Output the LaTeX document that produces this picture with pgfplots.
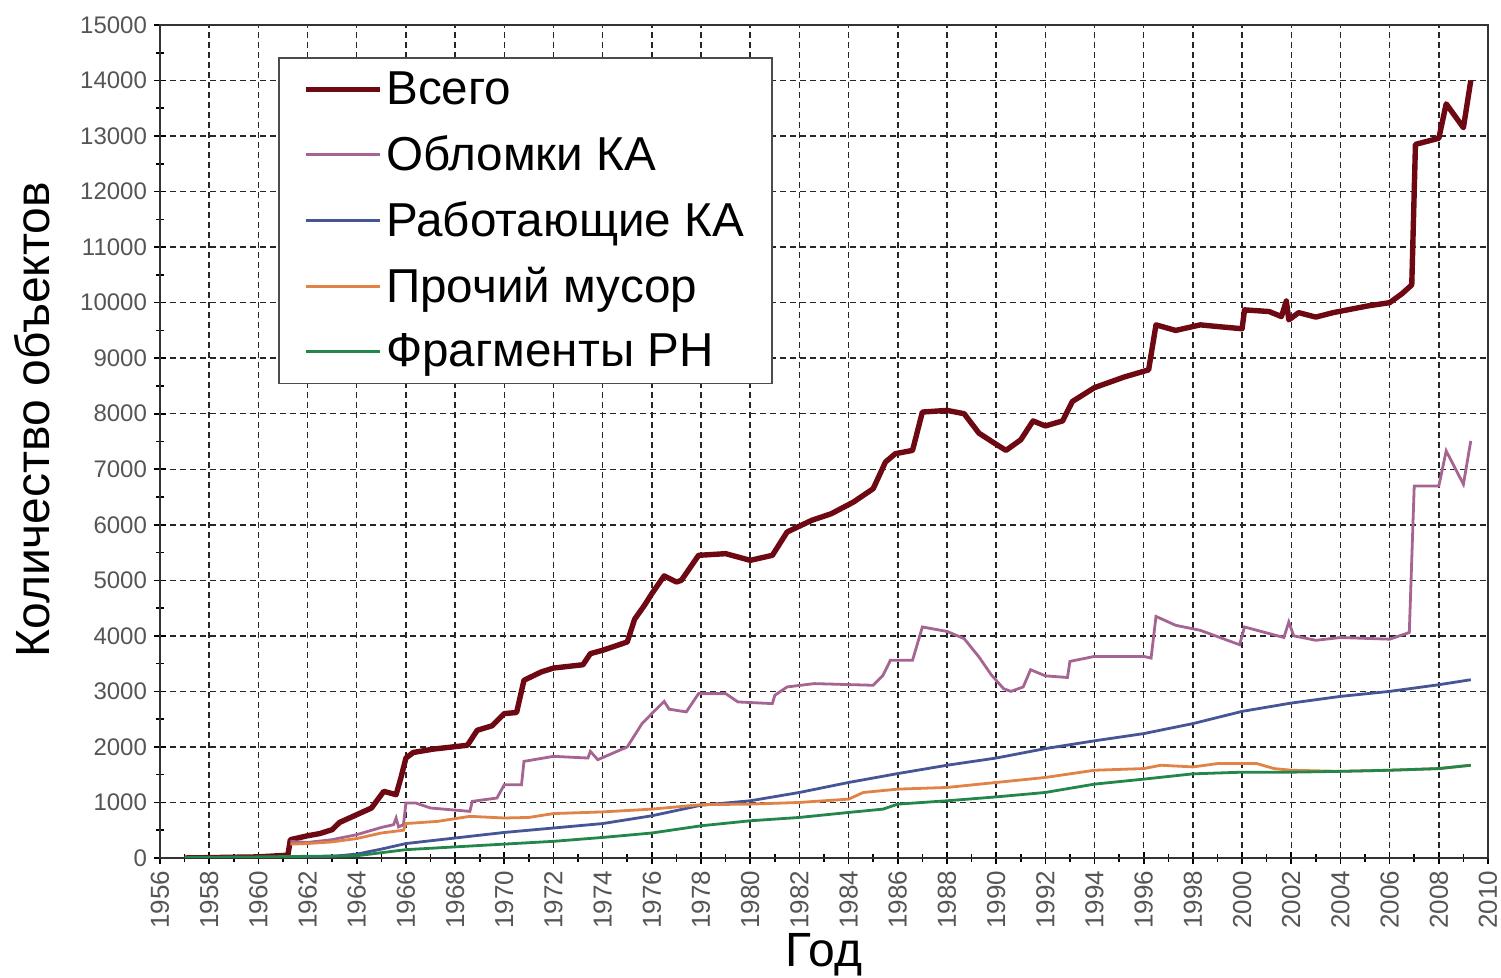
\documentclass[border=0pt]{standalone}
\usepackage{fontspec}
\setmainfont{Liberation Sans}
\usepackage{pgfplots}
\pgfplotsset{compat=1.18}
\definecolor{cTot}{RGB}{110,8,18}
\definecolor{cDeb}{RGB}{165,100,145}
\definecolor{cWork}{RGB}{70,85,150}
\definecolor{cOth}{RGB}{225,130,70}
\definecolor{cFrag}{RGB}{35,135,75}
\definecolor{tickgray}{RGB}{85,85,85}
\begin{document}
\begin{tikzpicture}
\path[use as bounding box] (0,0) rectangle (750.5pt,489pt);
\begin{axis}[
  at={(80pt,60pt)}, anchor=south west,
  width=664pt, height=416.5pt, scale only axis,
  xmin=1956, xmax=2010, ymin=0, ymax=15000,
  xtick={1956,1958,...,2010},
  minor xtick={1957,1959,...,2009},
  ytick={0,1000,...,15000},
  minor ytick={500,1500,...,14500},
  scaled y ticks=false,
  xtick pos=left, ytick pos=left,
  tick align=center,
  major tick length=6pt, minor tick length=4pt,
  every tick/.style={black, line width=0.8pt},
  grid=major,
  major grid style={black!85, line width=0.75pt, dash pattern=on 3pt off 2pt},
  axis line style={black!80, line width=0.8pt},
  /pgf/number format/assume math mode=true,
  /pgf/number format/1000 sep={},
  xticklabel style={rotate=90, anchor=east, font=\fontsize{13}{13}\selectfont, text=tickgray},
  yticklabel style={font=\fontsize{12}{12}\selectfont, text=tickgray},
  xlabel={Год}, ylabel={Количество объектов},
  label style={font=\fontsize{24}{28}\selectfont},
  xlabel style={at={(axis description cs:0.5,-0.1165)}, anchor=center},
  ylabel style={at={(axis description cs:-0.0964,0.526)}, anchor=center},
  legend style={at={(axis description cs:0.0889,0.9616)}, anchor=north west,
    font=\fontsize{23.8}{27}\selectfont, draw=black!70, line width=0.8pt, fill=white,
    row sep=10pt, inner xsep=12pt, inner ysep=5pt},
  legend cell align=left,
  legend image code/.code={\draw[#1] (0pt,0pt) -- (26pt,0pt); \path (0pt,0pt) -- (37pt,0pt);},
]
\addplot[cTot, line width=2.7pt, line join=round] coordinates {
(1957,0) (1960,20) (1961.2,50) (1961.3,330) (1962,400) (1962.5,440) (1963,510) (1963.3,640) (1964,780) (1964.6,900) (1965.1,1200) (1965.6,1140) (1965.8,1450) (1966,1800) (1966.3,1900) (1967.1,1960) (1968.5,2030) (1968.9,2300) (1969.5,2380) (1970,2600) (1970.5,2620) (1970.8,3200) (1971.5,3350) (1972,3420) (1973.2,3480) (1973.5,3680) (1974,3740) (1975,3890) (1975.3,4300) (1975.7,4550) (1976,4760) (1976.5,5080) (1977,4970) (1977.2,5000) (1977.9,5450) (1979,5480) (1980,5360) (1980.9,5450) (1981.5,5870) (1982.5,6080) (1983.3,6200) (1984.2,6410) (1985,6650) (1985.5,7130) (1985.9,7280) (1986.6,7340) (1987,8030) (1988,8060) (1988.7,8000) (1989.3,7650) (1990,7450) (1990.4,7340) (1991,7530) (1991.5,7870) (1992,7780) (1992.7,7870) (1993.1,8220) (1994,8470) (1995.2,8660) (1996.2,8790) (1996.5,9600) (1997.3,9500) (1998.3,9600) (1999,9570) (2000,9530) (2000.1,9870) (2001.1,9840) (2001.6,9750) (2001.8,10030) (2001.9,9690) (2002.3,9820) (2003,9740) (2003.7,9820) (2004.4,9880) (2005.1,9940) (2006,10000) (2006.5,10160) (2006.9,10320) (2007.05,12850) (2008,12960) (2008.3,13580) (2009,13150) (2009.3,14000)
};
\addlegendentry{Всего}
\addplot[cDeb, line width=1.4pt] coordinates {
(1961.3,300) (1962,280) (1963,330) (1964,420) (1965,550) (1965.5,600) (1965.6,720) (1965.7,560) (1965.9,600) (1966,990) (1966.4,990) (1967,900) (1968.6,840) (1968.7,1020) (1969.7,1080) (1970,1320) (1970.7,1320) (1970.8,1740) (1972,1830) (1973.4,1800) (1973.5,1920) (1973.8,1770) (1975,2000) (1975.6,2420) (1976,2600) (1976.5,2820) (1976.7,2680) (1977.4,2630) (1977.9,2960) (1979,2960) (1979.5,2810) (1980.9,2780) (1981,2930) (1981.5,3080) (1982.6,3140) (1985,3110) (1985.4,3290) (1985.7,3560) (1986.6,3560) (1987,4160) (1988,4080) (1988.7,3950) (1989.3,3620) (1989.8,3300) (1990.3,3050) (1990.6,3000) (1991.1,3080) (1991.4,3390) (1992,3280) (1992.9,3250) (1993,3540) (1994,3630) (1996,3630) (1996.3,3600) (1996.5,4350) (1997.3,4190) (1998.3,4100) (1999.9,3840) (2000.1,4160) (2001.7,3970) (2001.9,4250) (2002.1,4000) (2003,3920) (2004,3970) (2006,3940) (2006.8,4060) (2007,6700) (2008,6700) (2008.3,7330) (2009,6730) (2009.3,7510)
};
\addlegendentry{Обломки КА}
\addplot[cWork, line width=1.4pt] coordinates {
(1957,0) (1960,10) (1962,20) (1963,30) (1964,70) (1965,160) (1966,260) (1968,360) (1970,460) (1972,540) (1974,620) (1976,760) (1978,950) (1980,1030) (1982,1180) (1984,1360) (1986,1520) (1988,1670) (1990,1800) (1992,1970) (1994,2110) (1996,2240) (1998,2420) (2000,2640) (2002,2790) (2004,2910) (2006,3000) (2008,3120) (2009.3,3210)
};
\addlegendentry{Работающие КА}
\addplot[cOth, line width=1.4pt] coordinates {
(1961.3,250) (1962,260) (1963,290) (1964,350) (1965,450) (1965.9,500) (1966,620) (1967.3,660) (1968.6,750) (1970,720) (1971,730) (1972,800) (1974,830) (1976,880) (1978,960) (1980,970) (1982,1000) (1984,1060) (1984.6,1180) (1986,1240) (1988,1270) (1990,1360) (1992,1450) (1994,1580) (1996,1610) (1996.7,1670) (1998,1640) (1999,1700) (2000.6,1700) (2001.3,1610) (2002,1580) (2004,1560) (2006,1580) (2008,1610) (2009.3,1670)
};
\addlegendentry{Прочий мусор}
\addplot[cFrag, line width=1.4pt] coordinates {
(1957,10) (1960,20) (1962,30) (1964,40) (1966,150) (1968,200) (1970,250) (1972,300) (1974,370) (1976,450) (1978,580) (1980,670) (1982,730) (1984,820) (1985.4,880) (1986,970) (1988,1030) (1990,1100) (1992,1180) (1994,1330) (1996,1420) (1998,1515) (2000,1545) (2002,1545) (2004,1560) (2006,1580) (2008,1610) (2009.3,1670)
};
\addlegendentry{Фрагменты РН}
\end{axis}
\end{tikzpicture}
\end{document}
